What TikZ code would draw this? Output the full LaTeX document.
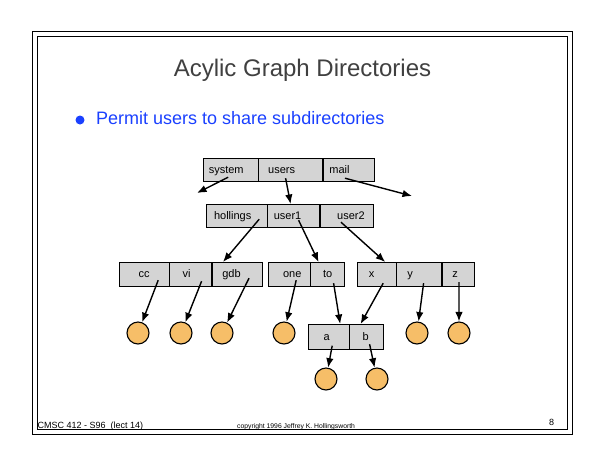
\documentclass[tikz,border=0pt]{standalone}
\usepackage{fontspec}
\setmainfont{Liberation Sans}
\usetikzlibrary{positioning,arrows.meta}
\definecolor{cellgray}{RGB}{212,212,212}
\definecolor{fileorange}{RGB}{246,190,104}
\definecolor{titlegray}{RGB}{64,64,64}
\definecolor{pointblue}{RGB}{26,64,255}

\begin{document}
\begin{tikzpicture}[x=1pt, y=-1pt,
	dircell/.style = {draw, fill=cellgray, minimum height=24pt, inner sep=0pt, text height=10pt, text depth=2.5pt, font=\fontsize{11}{13}\selectfont},
	filenode/.style = {draw, circle, fill=fileorange, line width=1.1pt, minimum size=22pt, inner sep=0pt},
	ptr/.style = {-{Latex[length=9.5pt,width=7.5pt]}, line width=1.4pt},
	nudge/.style = {execute at begin node={\kern#1pt}},
	txt/.style = {inner sep=0pt, anchor=base west}]
	\useasboundingbox (0,0) rectangle (605,467);
	% slide frame
	\draw[line width=0.9pt] (32,31) rectangle (572,434);
	\draw[line width=0.9pt] (37,36) rectangle (567,429);
	\node[font=\fontsize{24}{28}\selectfont, text=titlegray, inner sep=0pt, anchor=base] (title) at (302.5,76.5) {Acylic Graph Directories};
	\node[circle, fill=pointblue, minimum size=9pt, inner sep=0pt] (bullet) at (80,120) {};
	\node[txt, font=\fontsize{18}{22}\selectfont, text=pointblue] (point) at (96,124.5) {Permit users to share subdirectories};
	% root directory
	\node[dircell, minimum height=23pt, minimum width=55pt, anchor=north west, nudge=-9] (system) at (203,158) {system};
	\node[dircell, minimum height=23pt, minimum width=64pt, right=0pt of system, nudge=-18] (users) {users};
	\node[dircell, minimum height=23pt, minimum width=51pt, right=0pt of users, nudge=-18] (mail) {mail};
	% users
	\node[dircell, minimum height=23pt, minimum width=61pt, anchor=north west, nudge=-8] (hollings) at (206,204) {hollings};
	\node[dircell, minimum height=23pt, minimum width=52pt, right=0pt of hollings, nudge=-12] (user1) {user1};
	\node[dircell, minimum height=23pt, minimum width=53pt, right=0pt of user1, nudge=9] (user2) {user2};
	% hollings, user1, user2
	\node[dircell, minimum width=50pt, anchor=north west] (cc) at (119,262) {cc};
	\node[dircell, minimum width=42pt, right=0pt of cc, nudge=-8] (vi) {vi};
	\node[dircell, minimum width=50pt, right=0pt of vi, nudge=-11] (gdb) {gdb};
	\node[dircell, minimum width=42pt, anchor=north west, nudge=6] (one) at (268,262) {one};
	\node[dircell, minimum width=34pt, right=0pt of one] (to) {to};
	\node[dircell, minimum width=39pt, anchor=north west, nudge=-10] (x) at (357,262) {x};
	\node[dircell, minimum width=45pt, right=0pt of x, nudge=-18] (y) {y};
	\node[dircell, minimum width=32pt, right=0pt of y, nudge=-6] (z) {z};
	% shared directory
	\node[dircell, minimum height=25pt, minimum width=41pt, anchor=north west, nudge=-4] (a) at (308,324) {a};
	\node[dircell, minimum height=25pt, minimum width=34pt, right=0pt of a, nudge=-2] (b) {b};
	% files
	\node[filenode] (fcc) at (138,333) {};
	\node[filenode] (fvi) at (181,333) {};
	\node[filenode] (fgdb) at (222,333) {};
	\node[filenode] (fone) at (284,333) {};
	\node[filenode] (fy) at (417,333) {};
	\node[filenode] (fz) at (459,333) {};
	\node[filenode] (fa) at (326,379) {};
	\node[filenode] (fb) at (377,379) {};
	\coordinate (sysend) at (197,193);
	\coordinate (mailend) at (412,196);
	\draw[ptr] ([shift={(-2.5,7.5)}]system.center) -- (sysend);
	\draw[ptr] ([shift={(-5,8.5)}]users.center) -- ([xshift=-3pt]user1.north);
	\draw[ptr] ([shift={(-3.5,8.5)}]mail.center) -- (mailend);
	\draw[ptr] ([shift={(22.5,3.5)}]hollings.center) -- ([xshift=-14pt]gdb.north);
	\draw[ptr] ([shift={(5,4.5)}]user1.center) -- ([xshift=-9pt]to.north);
	\draw[ptr] ([shift={(-5.5,6.5)}]user2.center) -- ([xshift=8.5pt]x.north);
	\draw[ptr] ([shift={(14,6)}]cc.center) -- (fcc);
	\draw[ptr] ([shift={(11,7)}]vi.center) -- (fvi);
	\draw[ptr] ([shift={(12,4)}]gdb.center) -- (fgdb);
	\draw[ptr] ([shift={(7,6)}]one.center) -- (fone);
	\draw[ptr] ([shift={(6,9)}]to.center) -- ([xshift=11.5pt]a.north);
	\draw[ptr] ([shift={(6.5,9)}]x.center) -- ([xshift=-6pt]b.north);
	\draw[ptr] ([shift={(4.5,9)}]y.center) -- (fy);
	\draw[ptr] ([shift={(1,8)}]z.center) -- (fz);
	\draw[ptr] ([shift={(3.5,9)}]a.center) -- (fa);
	\draw[ptr] ([shift={(3,7.5)}]b.center) -- (fb);
	% footer
	\node[txt, font=\fontsize{9}{11}\selectfont] (course) at (37.5,428) {CMSC 412 - S96\ \ (lect 14)};
	\node[txt, font=\fontsize{6.8}{8}\selectfont] (copyright) at (237,428) {copyright 1996 Jeffrey K. Hollingsworth};
	\node[txt, font=\fontsize{9}{11}\selectfont] (page) at (549,425) {8};
\end{tikzpicture}
\end{document}
